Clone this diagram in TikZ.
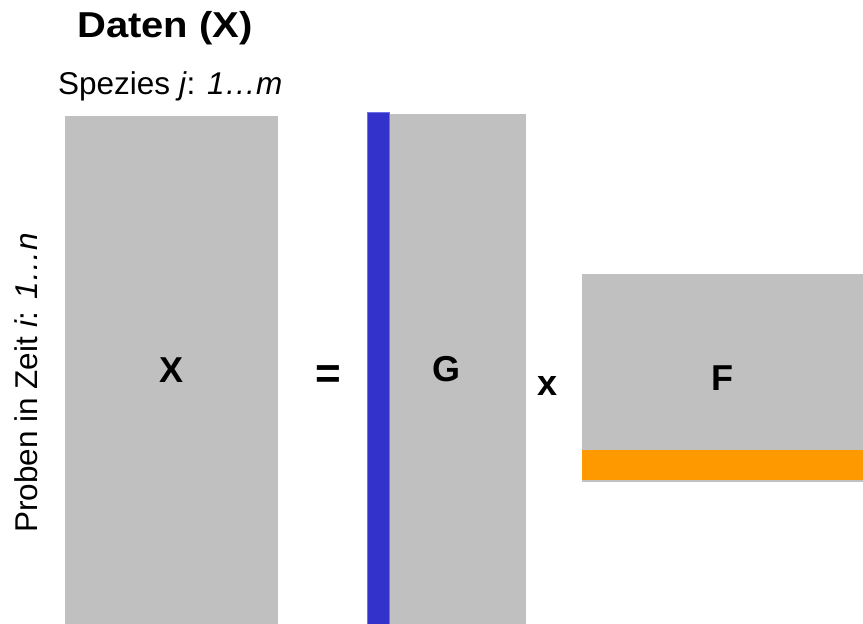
\documentclass[tikz,border=0pt]{standalone}
\usepackage{fontspec}
\setmainfont{Liberation Sans}
\usetikzlibrary{positioning}

\definecolor{matgray}{HTML}{C0C0C0}
\definecolor{colblue}{HTML}{3333CC}
\definecolor{colblueedge}{HTML}{6F6FE8}
\definecolor{roworange}{HTML}{FF9900}

\begin{document}
\begin{tikzpicture}[
    x=1pt, y=-1pt,
    mat/.style={fill=matgray, inner sep=0pt, outer sep=0pt, anchor=north west,
                font=\fontsize{36}{40}\selectfont\bfseries},
    opsign/.style={inner sep=0pt, font=\fontsize{36}{40}\selectfont\bfseries},
    axis/.style={inner sep=0pt, anchor=base west, font=\fontsize{31.5}{36}\selectfont}
]
\useasboundingbox (0,0) rectangle (863,624);
% title and axis labels
\node[inner sep=0pt, anchor=base west, font=\fontsize{36}{40}\selectfont\bfseries]
    (title) at (77,37) {\scalebox{1.11}[1]{Daten (X)}};
\node[axis] (species) at (58,94) {Spezies \textit{j}: \textit{1\ldots m}};
\node[axis, rotate=90] (samples) at (37,533) {Proben in Zeit \textit{i}: \textit{1\ldots n}};
% matrices
\node[mat, minimum width=213pt, minimum height=508pt] (X) at (65,116) {X};
\node[mat, minimum width=159pt, minimum height=510pt] (G) at (367,114) {G};
\node[fill=colblue, draw=colblueedge, line width=0.6pt, inner sep=0pt, anchor=north west,
      minimum width=22pt, minimum height=512pt] (gcol) at (367,112) {};
\node[mat, minimum width=281pt, minimum height=208pt] (F) at (582,274) {F};
\node[fill=roworange, inner sep=0pt, anchor=north west,
      minimum width=281pt, minimum height=30pt] (frow) at (F.north west |- 0,450) {};
% operators
\node[opsign, font=\fontsize{44}{48}\selectfont\bfseries] (eq) at (328,377) {=};
\node[opsign, anchor=base] (times) at (548,395) {x};
\end{tikzpicture}
\end{document}
